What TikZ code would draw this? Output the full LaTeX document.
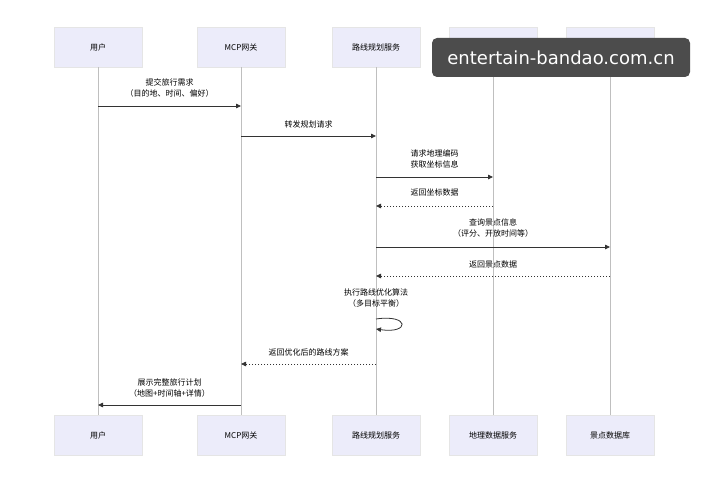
\documentclass[tikz,border=0pt]{standalone}
\usepackage{fontspec}
\setmainfont{Noto Sans CJK SC}
\newfontfamily\wmfont{DejaVu Sans}
\usetikzlibrary{arrows.meta}
\begin{document}
\begin{tikzpicture}[x=1pt,y=-1pt,
  actor/.style={draw=black!10,fill={rgb,255:red,236;green,236;blue,250},minimum width=88pt,minimum height=40pt,font=\fontsize{8}{9}\selectfont,inner sep=0},
  life/.style={draw=black!25,line width=0.7pt},
  msg/.style={draw=black!80,line width=0.8pt,-{Triangle[length=5pt,width=4.5pt]}},
  ret/.style={msg,dash pattern=on 1.5pt off 1.5pt},
  lab/.style={font=\fontsize{8}{10.5}\selectfont,align=center,inner sep=0}]
\useasboundingbox[fill=white] (0,0) rectangle (727,500);
\foreach \n/\x/\t in {u/98/用户,g/241/MCP网关,r/376/路线规划服务,d/493/地理数据服务,s/610/景点数据库}{
  \node[actor] (\n t) at (\x,47) {\t};
  \node[actor] (\n b) at (\x,435) {\t};
  \draw[life] (\n t.south) -- (\n b.north);
}
% coordinates on lifelines
\foreach \n/\x in {u/98,g/241,r/376,d/493,s/610}{
  \foreach \y in {106,136,177,206,247,276,319,329,364,405}{\coordinate (\n\y) at (\x,\y);}
}
\draw[msg] (u106) -- (g106);
\node[lab] (l1) at (169.5,88) {提交旅行需求\\（目的地、时间、偏好）};
\draw[msg] (g136) -- (r136);
\node[lab] (l2) at (308.5,124) {转发规划请求};
\draw[msg] (r177) -- (d177);
\node[lab] (l3) at (434.5,159) {请求地理编码\\获取坐标信息};
\draw[ret] (d206) -- (r206);
\node[lab] (l4) at (434.5,192) {返回坐标数据};
\draw[msg] (r247) -- (s247);
\node[lab] (l5) at (493,228) {查询景点信息\\（评分、开放时间等）};
\draw[ret] (s276) -- (r276);
\node[lab] (l6) at (493,264) {返回景点数据};
\node[lab] (l7) at (376,298) {执行路线优化算法\\（多目标平衡）};
\draw[msg] (r319) .. controls (410,314) and (410,334) .. (r329);
\draw[ret] (r364) -- (g364);
\node[lab] (l8) at (308.5,352) {返回优化后的路线方案};
\draw[msg] (g405) -- (u405);
\node[lab] (l9) at (169.5,388) {展示完整旅行计划\\（地图+时间轴+详情）};
\node[fill=black!70,rounded corners=5pt,minimum width=258pt,minimum height=39pt,text=white,font=\wmfont\fontsize{18}{20}\selectfont,inner sep=0] (wm) at (561,57.5) {entertain-bandao.com.cn};
\end{tikzpicture}
\end{document}
